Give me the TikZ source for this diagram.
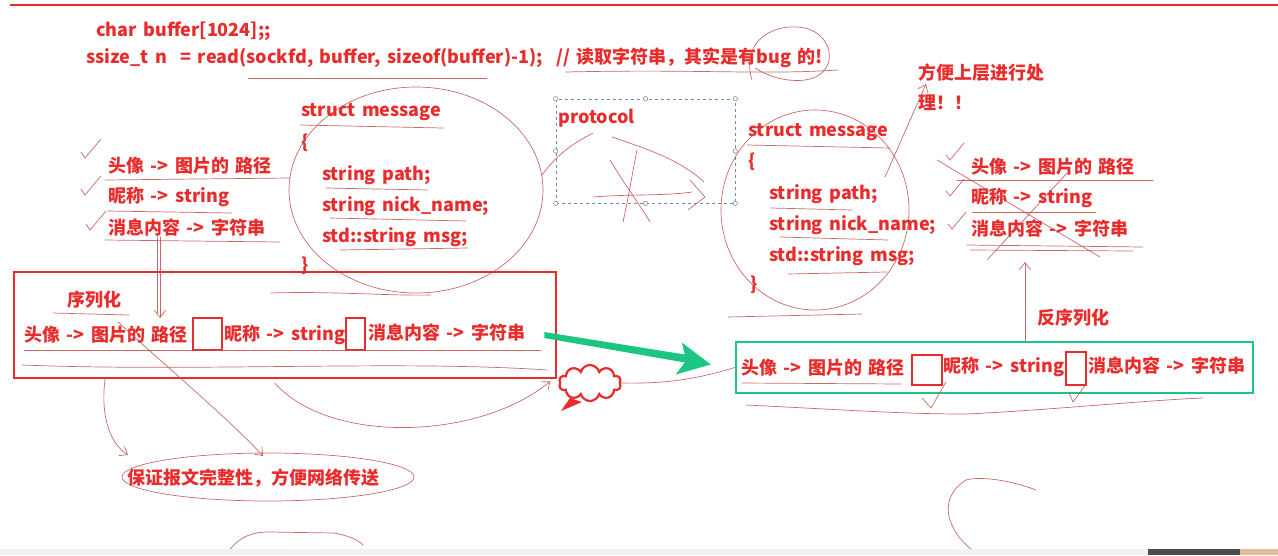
\documentclass[tikz,border=0pt]{standalone}
\usepackage{fontspec}
\setmainfont{Noto Sans CJK SC}[WordSpace=1.6]
\usepackage{tikz}
\usetikzlibrary{calc}
\usetikzlibrary{arrows.meta}
\usetikzlibrary{shapes.symbols}
\definecolor{ink}{RGB}{232,44,44}
\definecolor{pen}{RGB}{190,78,78}
\definecolor{okgreen}{RGB}{26,198,130}
\definecolor{guide}{RGB}{105,145,165}
\tikzset{
  txt/.style={anchor=west, inner sep=0pt, text=ink, font=\bfseries\fontsize{18}{20}\selectfont},
  pen/.style={draw=pen, line width=.7pt, line cap=round, opacity=.85},
  sepbox/.style={draw=ink, line width=2.6pt, inner sep=0pt},
  handle/.style={draw=gray, fill=white, line width=.5pt},
}

\begin{document}
\begin{tikzpicture}[x=1pt,y=-1pt,>={Straight Barb[length=7pt,width=11pt]}]
\useasboundingbox (0,0) rectangle (1278,555);
\draw[ink, line width=2.5pt] (10,5) -- (1278,5);

% code on top
\node[txt] (buf) at (96,31) {char buffer[1024];;};
\node[txt] (rd) at (86,58) {ssize\_t n\ \ = read(sockfd, buffer, sizeof(buffer)-1);};
\node[txt] (cmt) at (556,58) {// 读取字符串，其实是有bug 的!};
\draw[pen] (248,78) -- (487,78);
\draw[pen] (566,72) .. controls (700,69) and (760,75) .. (838,70);
\draw[pen] (752,80) .. controls (740,40) and (775,22) .. (805,28) .. controls (835,35) and (840,75) .. (805,80) .. controls (790,82) and (770,78) .. (755,68);

\node[txt] (upper) at (918,73) {方便上层进行处};
\node[txt] (upper2) at (918,103) {理！！};

% left side: fields and struct
\foreach \t [count=\i] in {头像 -> 图片的 路径, 昵称 -> string, 消息内容 -> 字符串}
  \node[txt] (la\i) at (108,135+31*\i) {\t};
\foreach \cx/\cy in {85/158, 85/195, 90/230}
  \draw[pen] (\cx-4,\cy-6) -- (\cx,\cy) -- (\cx+16,\cy-19);
\draw[pen] (105,180) -- (290,178);
\draw[pen] (108,211) -- (232,213);
\draw[pen] (105,240) -- (280,242);

\node[txt] (ls) at (301,112) {struct message};
\node[txt] (lo) at (301,143) {\{};
\foreach \t [count=\i] in {string path;, string nick\_name;, std::string msg;}
  \node[txt] (lf\i) at (322,144+31*\i) {\t};
\node[txt] (lc) at (301,266) {\}};
\draw[pen] (300,125) -- (443,128);
\draw[pen] (326,188) -- (428,190);
\draw[pen] (330,218) -- (466,221);
\draw[pen] (340,250) -- (468,248);
\draw[pen] (416,190) ellipse [x radius=127, y radius=103];
\draw[pen] (271,293) .. controls (330,291) and (390,296) .. (431,295);

% protocol
\node[draw=guide, dashed, line width=.6pt, minimum width=179, minimum height=104, inner sep=0] (proto) at (645.5,151) {};
\foreach \a in {north west, north, north east, east, south east, south, south west, west}
  \draw[handle] (proto.\a) circle (2.2);
\node[txt] (pname) at (558,118) {protocol};
\draw[pen] (542,175) .. controls (560,150) and (580,140) .. (593,133);
\draw[pen] (612,137) .. controls (650,150) and (680,160) .. (704,182);
\draw[pen] (637,150) .. controls (632,175) and (628,200) .. (623,222);
\draw[pen] (610,160) .. controls (625,185) and (640,205) .. (650,222);
\draw[pen] (593,197) .. controls (630,194) and (665,196) .. (692,192);
\draw[pen] (690,180) -- (705,197) -- (688,210);

% serialized frame
\node[draw=ink, line width=2.5pt, minimum width=542, minimum height=106, inner sep=0] (serial) at (285,325) {};
\node[txt] (ser) at (67,300) {序列化};
\draw[pen] (53,313) -- (129,315);
\node[txt] (s1) at (24,335) {头像 -> 图片的 路径};
\node[sepbox, minimum width=29, minimum height=32] (sb1) at (207.5,334) {};
\node[txt] (s2) at (224,335) {昵称 -> string};
\node[sepbox, minimum width=19, minimum height=32] (sb2) at (355.5,334) {};
\node[txt] (s3) at (368,333) {消息内容 -> 字符串};
\draw[pen] (24,350) -- (541,350);
\draw[pen] (22,365) .. controls (200,372) and (400,360) .. (547,370);

\coordinate (dn) at (160,318);
\draw[pen,->] (la3.south -| dn) -- (dn);
\draw[pen] ($(la3.south -| dn)+(-3,0)$) -- ($(dn)+(-3,-5)$);

% green arrow and cloud
\node[draw=okgreen, line width=2.5pt, minimum width=517, minimum height=51, inner sep=0] (wire) at (994.5,367.5) {};
\coordinate (gtip) at ($(wire.west)+(-24,-3)$);
\fill[okgreen] ($(serial.east)+(-13,7)$) -- ($(gtip)+(-26,-10)$) -- ($(gtip)+(-29,-22)$) -- (gtip)
  -- ($(gtip)+(-35,10)$) -- ($(gtip)+(-26,-2)$) -- ($(serial.east)+(-13,13)$) -- cycle;
\node[cloud, draw=ink, line width=2.2pt, cloud puffs=10, aspect=1.7, minimum width=62, minimum height=36, inner sep=0] (bubble) at (590,383) {};
\fill[ink] (570,398) -- (561,411) -- (582,402) -- cycle;
\draw[pen] (bubble.east) .. controls (670,384) and (700,378) .. (wire.west);
\draw[pen,->] ($(serial.south)+(-10,4)$) .. controls (330,445) and (480,440) .. ($(serial.south east)+(-7,2)$);

% deserialized row
\node[txt] (d1) at (741,368) {头像 -> 图片的 路径};
\node[sepbox, minimum width=30, minimum height=30] (db1) at (927,370) {};
\node[txt] (d2) at (943,367) {昵称 -> string};
\node[sepbox, minimum width=20, minimum height=33] (db2) at (1076,368.5) {};
\node[txt] (d3) at (1088,366) {消息内容 -> 字符串};
\draw[pen] (742,383) -- (901,384);
\draw[pen] (746,405) .. controls (850,410) and (900,414) .. (967,414) .. controls (1050,410) and (1150,400) .. (1203,398);
\draw[pen] (922,398) -- (931,408) -- (946,382);
\draw[pen] (1069,393) -- (1073,402) -- (1087,383);

\node[txt] (deser) at (1037,318) {反序列化};
\coordinate (up) at (1025,262);
\draw[pen,->] (wire.north -| up) -- (up);

% right struct and fields
\node[txt] (rs) at (748,132) {struct message};
\node[txt] (ro) at (748,162) {\{};
\foreach \t [count=\i] in {string path;, string nick\_name;, std::string msg;}
  \node[txt] (rf\i) at (769,163+31*\i) {\t};
\node[txt] (rc) at (750,285) {\}};
\draw[pen] (747,145) -- (890,148);
\draw[pen] (771,208) -- (852,210);
\draw[pen] (780,237) -- (888,240);
\draw[pen] (788,274) -- (887,272);
\draw[pen] (815,210) ellipse [x radius=94, y radius=100];
\draw[pen] (728,317) -- (862,314);
\draw[pen,->] (885,177) -- ($(upper.south west)+(8,2)$);

\foreach \t [count=\i] in {头像 -> 图片的 路径, 昵称 -> string, 消息内容 -> 字符串}
  \node[txt] (ra\i) at (971,136+31*\i) {\t};
\foreach \cx/\cy in {950/160, 950/196, 952/229}
  \draw[pen] (\cx-4,\cy-5) -- (\cx,\cy) -- (\cx+14,\cy-17);
\draw[pen] (957,180) -- (1153,180);
\draw[pen] (972,212) -- (1096,212);
\draw[pen] (967,245) -- (1143,247);
\draw[pen] (970,250) -- (1133,251);
\draw[pen] (937,160) -- (1100,257);
\draw[pen] (1067,173) -- (987,260);

% reason below
\node[txt] (keep) at (127,478) {保证报文完整性，方便网络传送};
\draw[pen] (268,477) ellipse [x radius=146, y radius=24];
\draw[pen,->] ($(serial.south)+(-180,0)$) .. controls (100,420) and (112,445) .. (128,455);
\draw[pen,->] (118,322) .. controls (170,370) and (230,420) .. (263,456);

% loose strokes at the bottom
\draw[pen] (228,552) .. controls (240,535) and (255,532) .. (269,532) -- (334,533) .. controls (350,536) and (358,540) .. (363,545);
\draw[pen] (1036,490) .. controls (1010,480) and (980,476) .. (966,480) .. controls (950,490) and (945,505) .. (950,520) .. controls (955,535) and (965,545) .. (975,552);

% screen strip
\fill[gray!10] (0,549) rectangle (1148,555);
\fill[black!70] (1148,549) rectangle (1240,555);
\fill[brown!50] (1240,549) rectangle (1278,555);
\end{tikzpicture}
\end{document}
